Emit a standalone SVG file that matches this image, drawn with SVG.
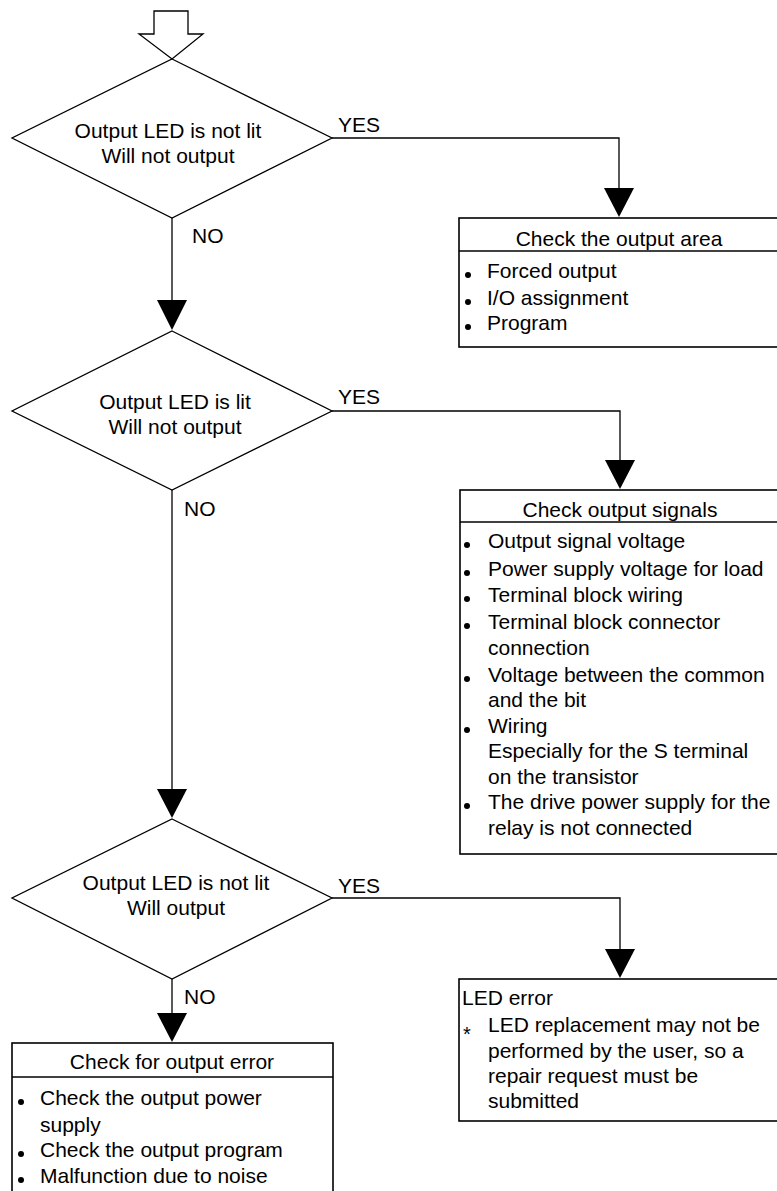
<svg xmlns="http://www.w3.org/2000/svg" width="777" height="1191" viewBox="0 0 777 1191">
<style>
text{font-family:"Liberation Sans",Arial,sans-serif;font-size:21px;fill:#000}
.c{text-anchor:middle}
.ln{fill:none;stroke:#000;stroke-width:1.3}
.bx{fill:#fff;stroke:#000;stroke-width:1.6}
.ah{fill:#000;stroke:none}
.bl{fill:#000}
</style>
<rect width="777" height="1191" fill="#fff"/>
<g id="connectors">
<path class="ln" d="M154,11 H188 V34 H203 L172,59 L139,34 H154 Z" fill="#fff"/>
<path class="ln" d="M172,218 V300"/>
<polygon class="ah" points="157,300 187,300 172,330"/>
<path class="ln" d="M172,490 V789"/>
<polygon class="ah" points="157,789 187,789 172,818"/>
<path class="ln" d="M172,979 V1013"/>
<polygon class="ah" points="157,1013 187,1013 172,1042"/>
<path class="ln" d="M332,138 H619 V188"/>
<polygon class="ah" points="604,188 634,188 619,217"/>
<path class="ln" d="M332,411 H620 V460"/>
<polygon class="ah" points="605,460 635,460 620,489"/>
<path class="ln" d="M332,898 H620 V949"/>
<polygon class="ah" points="605,949 635,949 620,978"/>
<text x="192" y="243">NO</text>
<text x="184" y="516">NO</text>
<text x="184" y="1004">NO</text>
<text x="338" y="132">YES</text>
<text x="338" y="404">YES</text>
<text x="338" y="893">YES</text>
</g>
<g id="d1">
<polygon class="ln" points="172,59 332,138 172,218 12,138" fill="#fff"/>
<text class="c" x="168" y="138">Output LED is not lit</text>
<text class="c" x="168" y="163">Will not output</text>
</g>
<g id="d2">
<polygon class="ln" points="172,331 332,411 172,490 12,411" fill="#fff"/>
<text class="c" x="175" y="409">Output LED is lit</text>
<text class="c" x="175" y="434">Will not output</text>
</g>
<g id="d3">
<polygon class="ln" points="172,819 332,898 172,979 12,898" fill="#fff"/>
<text class="c" x="176" y="890">Output LED is not lit</text>
<text class="c" x="176" y="915">Will output</text>
</g>
<g id="b1">
<rect class="bx" x="459" y="218" width="340" height="129"/>
<line class="ln" x1="459" y1="251" x2="799" y2="251"/>
<text class="c" x="619" y="246">Check the output area</text>
<circle class="bl" cx="468" cy="275" r="3"/><text x="487" y="278">Forced output</text>
<circle class="bl" cx="468" cy="302" r="3"/><text x="487" y="305">I/O assignment</text>
<circle class="bl" cx="468" cy="327" r="3"/><text x="487" y="330">Program</text>
</g>
<g id="b2">
<rect class="bx" x="460" y="490" width="340" height="364"/>
<line class="ln" x1="460" y1="522" x2="800" y2="522"/>
<text class="c" x="620" y="517">Check output signals</text>
<circle class="bl" cx="467" cy="545" r="3"/><text x="488" y="548">Output signal voltage</text>
<circle class="bl" cx="467" cy="573" r="3"/><text x="488" y="576">Power supply voltage for load</text>
<circle class="bl" cx="467" cy="599" r="3"/><text x="488" y="602">Terminal block wiring</text>
<circle class="bl" cx="467" cy="626" r="3"/><text x="488" y="629">Terminal block connector</text>
<text x="488" y="655">connection</text>
<circle class="bl" cx="467" cy="679" r="3"/><text x="488" y="682">Voltage between the common</text>
<text x="488" y="707">and the bit</text>
<circle class="bl" cx="467" cy="730" r="3"/><text x="488" y="733">Wiring</text>
<text x="488" y="758">Especially for the S terminal</text>
<text x="488" y="784">on the transistor</text>
<circle class="bl" cx="467" cy="806" r="3"/><text x="488" y="809">The drive power supply for the</text>
<text x="488" y="835">relay is not connected</text>
</g>
<g id="b3">
<rect class="bx" x="12" y="1043" width="321" height="170"/>
<line class="ln" x1="12" y1="1077" x2="333" y2="1077"/>
<text class="c" x="172" y="1069">Check for output error</text>
<circle class="bl" cx="21" cy="1102" r="3"/><text x="40" y="1105">Check the output power</text>
<text x="40" y="1132">supply</text>
<circle class="bl" cx="21" cy="1154" r="3"/><text x="40" y="1157">Check the output program</text>
<circle class="bl" cx="21" cy="1180" r="3"/><text x="40" y="1183">Malfunction due to noise</text>
</g>
<g id="b4">
<rect class="bx" x="459" y="979" width="340" height="142"/>
<text x="462" y="1005">LED error</text>
<text x="463" y="1041" style="font-size:20px">*</text>
<text x="488" y="1032">LED replacement may not be</text>
<text x="488" y="1058">performed by the user, so a</text>
<text x="488" y="1083">repair request must be</text>
<text x="488" y="1108">submitted</text>
</g>
</svg>
